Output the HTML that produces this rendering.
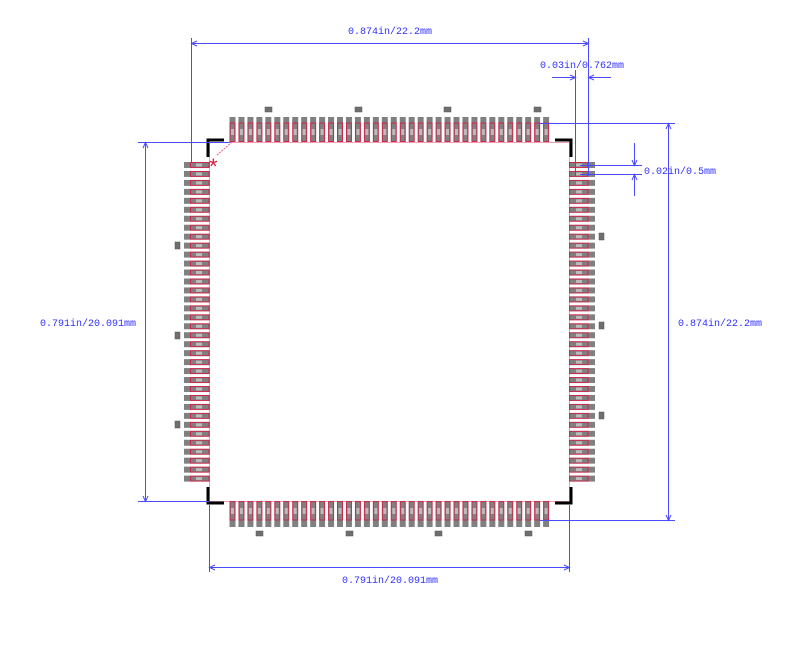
<!DOCTYPE html>
<html><head><meta charset="utf-8"><style>
html,body{margin:0;padding:0;background:#fff;}
svg{display:block;}
text{font-family:"Liberation Mono",monospace;font-size:10px;fill:#3030ff;}
</style></head><body>
<svg width="800" height="657" viewBox="0 0 800 657" xmlns="http://www.w3.org/2000/svg">
<defs>
<pattern id="pt" patternUnits="userSpaceOnUse" x="229.5" y="117" width="8.96" height="25">
<rect x="0" y="0" width="6" height="25" fill="#808080"/>
<rect x="0.5" y="6" width="5" height="18.5" fill="none" stroke="#c8284a" stroke-width="1"/>
<rect x="1.5" y="12" width="3" height="6" fill="#bbb"/>
</pattern>
<pattern id="pb" patternUnits="userSpaceOnUse" x="229.5" y="501" width="8.96" height="26">
<rect x="0" y="0" width="6" height="26" fill="#808080"/>
<rect x="0.5" y="0.5" width="5" height="18.5" fill="none" stroke="#c8284a" stroke-width="1"/>
<rect x="1.5" y="7" width="3" height="6" fill="#bbb"/>
</pattern>
<pattern id="pl" patternUnits="userSpaceOnUse" x="184" y="162" width="26" height="8.96">
<rect x="0" y="0" width="26" height="6" fill="#808080"/>
<rect x="6.5" y="0.5" width="18.5" height="5" fill="none" stroke="#c8284a" stroke-width="1"/>
<rect x="12" y="1.5" width="6" height="3" fill="#bbb"/>
</pattern>
<pattern id="pr" patternUnits="userSpaceOnUse" x="569" y="162" width="26" height="8.96">
<rect x="0" y="0" width="26" height="6" fill="#808080"/>
<rect x="0.5" y="0.5" width="18.5" height="5" fill="none" stroke="#c8284a" stroke-width="1"/>
<rect x="7" y="1.5" width="6" height="3" fill="#bbb"/>
</pattern>
</defs>
<rect x="209.5" y="142.5" width="360" height="359" fill="none" stroke="#f0a0b0" stroke-width="1"/>
<rect x="229.5" y="117" width="320" height="25" fill="url(#pt)"/>
<rect x="229.5" y="501" width="320" height="26" fill="url(#pb)"/>
<rect x="184" y="162" width="26" height="320" fill="url(#pl)"/>
<rect x="569" y="162" width="26" height="320" fill="url(#pr)"/>
<g fill="#6f6f6f" stroke="#555" stroke-width="0.5">
<rect x="265" y="107" width="7" height="5"/><rect x="355" y="107" width="7" height="5"/><rect x="444" y="107" width="7" height="5"/><rect x="534" y="107" width="7" height="5"/>
<rect x="256" y="531" width="7" height="5"/><rect x="346" y="531" width="7" height="5"/><rect x="435" y="531" width="7" height="5"/><rect x="525" y="531" width="7" height="5"/>
<rect x="175" y="242" width="5" height="7"/><rect x="175" y="332" width="5" height="7"/><rect x="175" y="421" width="5" height="7"/>
<rect x="599" y="233" width="5" height="7"/><rect x="599" y="322" width="5" height="7"/><rect x="599" y="412" width="5" height="7"/>
</g>
<g stroke="#000" stroke-width="3" fill="none">
<polyline points="224,140 208,140 208,157"/>
<polyline points="555,140 571,140 571,157"/>
<polyline points="208,487 208,503 224,503"/>
<polyline points="571,487 571,503 555,503"/>
</g>
<line x1="232" y1="142" x2="216" y2="156" stroke="#e06080" stroke-width="1" stroke-dasharray="2,1"/>
<text x="209" y="174" style="fill:#d0203a;font-size:22px;font-family:'Liberation Sans',sans-serif">*</text>
<g stroke="#4a4aff" stroke-width="1" fill="none">
<line x1="191.5" y1="38" x2="191.5" y2="162"/>
<line x1="588.5" y1="38" x2="588.5" y2="176"/>
<line x1="191" y1="43.5" x2="588" y2="43.5"/>
<line x1="575.5" y1="70" x2="575.5" y2="176"/>
<line x1="552" y1="77.5" x2="575" y2="77.5"/>
<line x1="588" y1="77.5" x2="611" y2="77.5"/>
<line x1="580" y1="165.5" x2="642" y2="165.5"/>
<line x1="580" y1="174.5" x2="642" y2="174.5"/>
<line x1="634.5" y1="143" x2="634.5" y2="165"/>
<line x1="634.5" y1="174" x2="634.5" y2="196"/>
<line x1="540" y1="123.5" x2="675" y2="123.5"/>
<line x1="540" y1="520.5" x2="675" y2="520.5"/>
<line x1="668.5" y1="123" x2="668.5" y2="520"/>
<line x1="138" y1="142.5" x2="230" y2="142.5"/>
<line x1="138" y1="501.5" x2="209" y2="501.5"/>
<line x1="145.5" y1="142" x2="145.5" y2="501"/>
<line x1="209.5" y1="505" x2="209.5" y2="572"/>
<line x1="569.5" y1="505" x2="569.5" y2="572"/>
<line x1="209" y1="567.5" x2="569" y2="567.5"/>
</g>
<g fill="none" stroke="#4a4aff" stroke-width="1">
<polyline points="197,41 191.5,43.5 197,46"/><polyline points="583,41 588.5,43.5 583,46"/>
<polyline points="570,75 575.5,77.5 570,80"/><polyline points="594,75 588.5,77.5 594,80"/>
<polyline points="632,160 634.5,165.5 637,160"/><polyline points="632,180 634.5,174.5 637,180"/>
<polyline points="666,129 668.5,123.5 671,129"/><polyline points="666,515 668.5,520.5 671,515"/>
<polyline points="143,148 145.5,142.5 148,148"/><polyline points="143,496 145.5,501.5 148,496"/>
<polyline points="215,565 209.5,567.5 215,570"/><polyline points="564,565 569.5,567.5 564,570"/>
</g>
<text x="390" y="34" text-anchor="middle">0.874in/22.2mm</text>
<text x="582" y="68" text-anchor="middle">0.03in/0.762mm</text>
<text x="644" y="174">0.02in/0.5mm</text>
<text x="678" y="326">0.874in/22.2mm</text>
<text x="40" y="326">0.791in/20.091mm</text>
<text x="390" y="583" text-anchor="middle">0.791in/20.091mm</text>
</svg>
</body></html>
